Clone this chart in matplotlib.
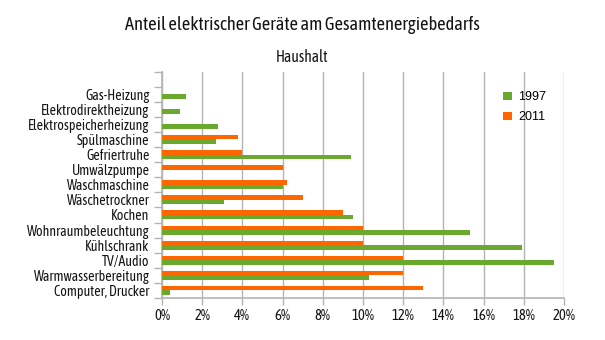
import matplotlib
matplotlib.use("Agg")
import matplotlib.pyplot as plt
from matplotlib.ticker import FixedLocator, PercentFormatter
import numpy as np

categories = [
    "Gas-Heizung", "Elektrodirektheizung", "Elektrospeicherheizung",
    "Spülmaschine", "Gefriertruhe", "Umwälzpumpe", "Waschmaschine",
    "Wäschetrockner", "Kochen", "Wohnraumbeleuchtung", "Kühlschrank",
    "TV/Audio", "Warmwasserbereitung", "Computer, Drucker",
]
share_1997 = [1.2, 0.9, 2.8, 2.7, 9.4, 0.0, 6.0, 3.1, 9.5, 15.3, 17.9, 19.5, 10.3, 0.4]
share_2011 = [0.0, 0.0, 0.0, 3.8, 4.0, 6.0, 6.2, 7.0, 9.0, 10.0, 10.0, 12.0, 12.0, 13.0]
x_ticks = [0, 2, 4, 6, 8, 10, 12, 14, 16, 18, 20]

title = "Anteil elektrischer Geräte am Gesamtenergiebedarfs"
subtitle = "Haushalt"

GREEN = "#6aa92e"
ORANGE = "#ff6600"
GRID = "#b3b3b3"
TEXT = "#141414"
LABEL_FONT = ["Asap Condensed", "DejaVu Sans"]

fig = plt.figure(figsize=(6.05, 3.4), dpi=100)
ax = fig.add_axes([162 / 605, 1 - 298 / 340, 402 / 605, 226.5 / 340])

y = np.arange(len(categories))
h = 0.3
ax.barh(y - h / 2, share_2011, height=h, color=ORANGE, label="2011", zorder=3)
ax.barh(y + h / 2, share_1997, height=h, color=GREEN, label="1997", zorder=3)

ax.set_xlim(0, 20)
ax.set_ylim(len(categories) - 0.5, -1.5)

ax.set_xticks(x_ticks)
ax.xaxis.set_major_formatter(PercentFormatter(decimals=0))
ax.grid(axis="x", color=GRID, linewidth=1, zorder=0)
ax.grid(axis="y", visible=False)

ax.set_yticks(y)
ax.set_yticklabels(categories)
ax.yaxis.set_minor_locator(FixedLocator(np.arange(-1.5, len(categories), 1.0)))
ax.tick_params(axis="y", which="major", length=0, pad=9)
ax.tick_params(axis="y", which="minor", length=6, color=GRID, width=1)
ax.tick_params(axis="x", which="major", length=5, color=GRID, width=1, pad=3)

for lbl in ax.get_yticklabels():
    lbl.set_fontfamily(LABEL_FONT)
    lbl.set_fontsize(10)
    lbl.set_color(TEXT)
for lbl in ax.get_xticklabels():
    lbl.set_fontfamily(LABEL_FONT)
    lbl.set_fontsize(10.5)
    lbl.set_color(TEXT)

for side in ("top", "right"):
    ax.spines[side].set_visible(False)
for side in ("left", "bottom"):
    ax.spines[side].set_color(GRID)
    ax.spines[side].set_linewidth(1.2)

handles, labels = ax.get_legend_handles_labels()
leg = ax.legend(handles[::-1], labels[::-1], loc="upper left",
                bbox_to_anchor=(0.82, 0.962), frameon=False,
                handlelength=0.7, handleheight=0.7, handletextpad=0.5,
                labelspacing=0.65, prop={"family": "Liberation Sans", "size": 9})

fig.text(0.5, 1 - 24.5 / 340, title, ha="center", va="center",
         fontsize=13.2, family=LABEL_FONT, color=TEXT)
fig.text(0.5, 1 - 57 / 340, subtitle, ha="center", va="center",
         fontsize=11.2, family=LABEL_FONT, color=TEXT)

fig.savefig("out.png", dpi=100, facecolor="white")
